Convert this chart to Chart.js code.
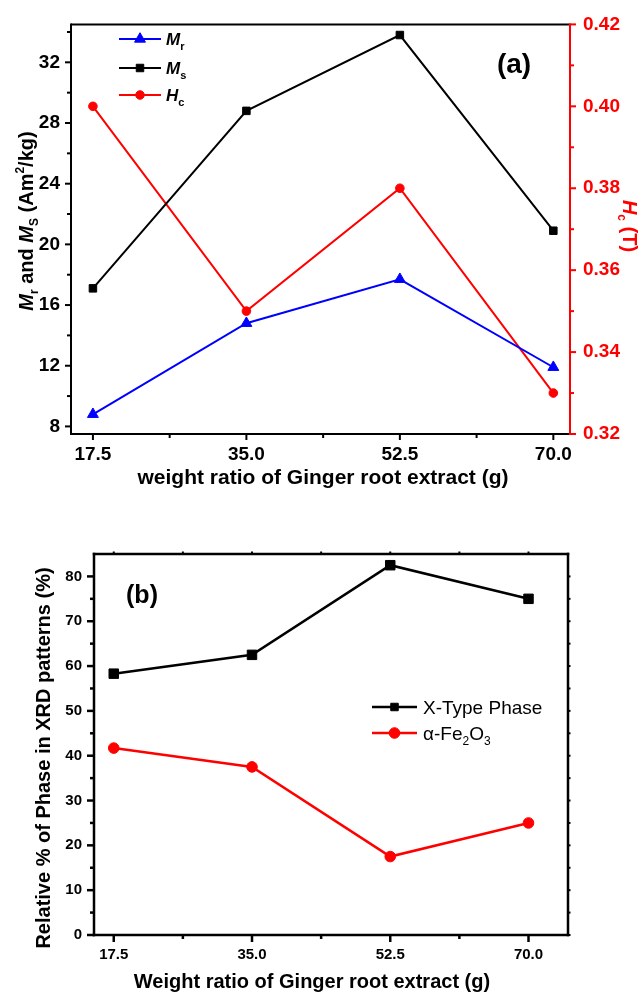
<!DOCTYPE html>
<html>
<head>
<meta charset="utf-8">
<script src="https://cdn.jsdelivr.net/npm/chart.js@4.4.1/dist/chart.umd.min.js"></script>
<style>
  html, body { margin: 0; padding: 0; background: #ffffff; }
  #wrap { position: relative; width: 643px; height: 998px; overflow: hidden; }
  canvas { position: absolute; left: 0; }
  #magnetic { top: 0; }
  #phase { top: 500px; }
</style>
</head>
<body>
<div id="wrap">
  <canvas id="magnetic" width="643" height="500"></canvas>
  <canvas id="phase" width="643" height="498"></canvas>
</div>
<script>
// ---- data ----
const gingerWeights = [17.5, 35.0, 52.5, 70.0];          // g of ginger root extract
const remanence = [8.8, 14.8, 17.7, 11.9];                // Mr (Am2/kg)
const saturation = [17.1, 28.8, 33.8, 20.9];              // Ms (Am2/kg)
const coercivity = [0.40, 0.35, 0.38, 0.33];              // Hc (T)
const xTypePhase = [58.3, 62.5, 82.5, 75.0];              // X-type phase (%)
const hematitePhase = [41.7, 37.5, 17.5, 25.0];           // alpha-Fe2O3 (%)

// ---- tick values ----
const weightTicks = [17.5, 35.0, 52.5, 70.0];
const weightMinor = [26.25, 43.75, 61.25];
const momentTicks = [8, 12, 16, 20, 24, 28, 32];
const momentMinor = [10, 14, 18, 22, 26, 30, 34];
const fieldTicks = [0.32, 0.34, 0.36, 0.38, 0.40, 0.42];
const fieldMinor = [0.33, 0.35, 0.37, 0.39, 0.41];
const percentTicks = [0, 10, 20, 30, 40, 50, 60, 70, 80];
const percentMinor = [5, 15, 25, 35, 45, 55, 65, 75];

const FONT = "'Liberation Sans', Arial, Helvetica, sans-serif";
const RED = '#ff0000';
const BLUE = '#0000ff';
const BLACK = '#000000';

Chart.defaults.font.family = FONT;
Chart.defaults.color = BLACK;

function pairs(xs, ys) { return xs.map((x, i) => ({ x: x, y: ys[i] })); }
function f(style, size) { return style + ' ' + size + 'px ' + FONT; }

function seg(ctx, x1, y1, x2, y2, color, width) {
  ctx.beginPath();
  ctx.strokeStyle = color;
  ctx.lineWidth = width;
  ctx.moveTo(x1, y1);
  ctx.lineTo(x2, y2);
  ctx.stroke();
}

// tick marks along one side of the plot area
function ticks(ctx, scale, values, len, side, area, color, width) {
  values.forEach(v => {
    const p = scale.getPixelForValue(v);
    if (side === 'bottom') seg(ctx, p, area.bottom, p, area.bottom + len, color, width);
    if (side === 'top') seg(ctx, p, area.top, p, area.top - len, color, width);
    if (side === 'left') seg(ctx, area.left - len, p, area.left, p, color, width);
    if (side === 'right') seg(ctx, area.right, p, area.right + len, p, color, width);
  });
}

// text made of runs (subscripts / superscripts / italics)
function rich(ctx, parts, x, y, rot, align) {
  ctx.save();
  ctx.translate(x, y);
  ctx.rotate(rot || 0);
  ctx.textBaseline = 'alphabetic';
  ctx.textAlign = 'left';
  let w = 0;
  parts.forEach(p => { ctx.font = p.font; p.w = ctx.measureText(p.t).width; w += p.w; });
  let cx = align === 'center' ? -w / 2 : 0;
  parts.forEach(p => {
    ctx.font = p.font;
    ctx.fillStyle = p.color || BLACK;
    ctx.fillText(p.t, cx, p.dy || 0);
    cx += p.w;
  });
  ctx.restore();
}

function legendRow(ctx, x1, x2, y, color, lw, pointStyle, radius, parts, textX, baseShift) {
  seg(ctx, x1, y, x2, y, color, lw);
  ctx.fillStyle = color;
  ctx.strokeStyle = color;
  ctx.lineWidth = 1;
  Chart.helpers.drawPoint(ctx, { pointStyle: pointStyle, radius: radius, rotation: 0, borderWidth: 1 }, (x1 + x2) / 2, y);
  rich(ctx, parts, textX, y + baseShift, 0, 'left');
}

const noGrid = { display: false, drawTicks: false };

// ---- chart (a): magnetic parameters ----
const magneticDecor = {
  id: 'magneticDecor',
  afterDraw(chart) {
    const ctx = chart.ctx, a = chart.chartArea, s = chart.scales;
    ctx.save();
    // axes box
    seg(ctx, a.left, a.top, a.right, a.top, BLACK, 2);
    seg(ctx, a.left, a.top - 1, a.left, a.bottom + 1, BLACK, 2);
    seg(ctx, a.left, a.bottom, a.right, a.bottom, BLACK, 2);
    seg(ctx, a.right, a.top - 1, a.right, a.bottom + 1, RED, 2);
    // tick marks
    ticks(ctx, s.x, weightTicks, 6, 'bottom', a, BLACK, 2);
    ticks(ctx, s.x, weightMinor, 4, 'bottom', a, BLACK, 2);
    ticks(ctx, s.y, momentTicks, 6, 'left', a, BLACK, 2);
    ticks(ctx, s.y, momentMinor, 4, 'left', a, BLACK, 2);
    ticks(ctx, s.y1, fieldTicks, 6, 'right', a, RED, 2);
    ticks(ctx, s.y1, fieldMinor, 4, 'right', a, RED, 2);

    // axis titles
    rich(ctx, [{ t: 'weight ratio of Ginger root extract (g)', font: f('bold', 21) }], 323, 484, 0, 'center');
    rich(ctx, [
      { t: 'M', font: f('italic bold', 20) },
      { t: 'r', font: f('bold', 12), dy: 5 },
      { t: ' and ', font: f('bold', 20) },
      { t: 'M', font: f('italic bold', 20) },
      { t: 'S', font: f('bold', 12), dy: 5 },
      { t: ' (Am', font: f('bold', 20) },
      { t: '2', font: f('bold', 12), dy: -9 },
      { t: '/kg)', font: f('bold', 20) }
    ], 33, 221, -Math.PI / 2, 'center');
    rich(ctx, [
      { t: 'H', font: f('italic bold', 20), color: RED },
      { t: 'c', font: f('bold', 12), dy: 5, color: RED },
      { t: ' (T)', font: f('bold', 20), color: RED }
    ], 623, 226, Math.PI / 2, 'center');

    // panel label
    rich(ctx, [{ t: '(a)', font: f('bold', 28) }], 514, 73, 0, 'center');

    // legend
    legendRow(ctx, 119, 161, 39, BLUE, 2, 'triangle', 6.3,
      [{ t: 'M', font: f('italic bold', 17) }, { t: 'r', font: f('bold', 11), dy: 5 }], 166, 6);
    legendRow(ctx, 119, 161, 68, BLACK, 2, 'rect', 5.3,
      [{ t: 'M', font: f('italic bold', 17) }, { t: 's', font: f('bold', 11), dy: 5 }], 166, 6);
    legendRow(ctx, 119, 161, 95, RED, 2, 'circle', 4.3,
      [{ t: 'H', font: f('italic bold', 17) }, { t: 'c', font: f('bold', 11), dy: 5 }], 166, 6);
    ctx.restore();
  }
};

new Chart(document.getElementById('magnetic'), {
  type: 'line',
  data: {
    datasets: [
      {
        label: 'Ms', data: pairs(gingerWeights, saturation), yAxisID: 'y',
        borderColor: BLACK, backgroundColor: BLACK, borderWidth: 2,
        pointStyle: 'rect', pointRadius: 5.3, pointBorderWidth: 1,
        pointBackgroundColor: BLACK, pointBorderColor: BLACK
      },
      {
        label: 'Mr', data: pairs(gingerWeights, remanence), yAxisID: 'y',
        borderColor: BLUE, backgroundColor: BLUE, borderWidth: 2,
        pointStyle: 'triangle', pointRadius: 6.3, pointBorderWidth: 1,
        pointBackgroundColor: BLUE, pointBorderColor: BLUE
      },
      {
        label: 'Hc', data: pairs(gingerWeights, coercivity), yAxisID: 'y1',
        borderColor: RED, backgroundColor: RED, borderWidth: 2,
        pointStyle: 'circle', pointRadius: 4.3, pointBorderWidth: 1,
        pointBackgroundColor: RED, pointBorderColor: RED
      }
    ]
  },
  options: {
    responsive: false,
    animation: false,
    devicePixelRatio: 1,
    layout: { autoPadding: false, padding: { top: 17, left: 0, right: 0, bottom: 0 } },
    plugins: { legend: { display: false }, tooltip: { enabled: false } },
    elements: { line: { tension: 0 } },
    scales: {
      x: {
        type: 'linear', position: 'bottom', min: 15, max: 71.9,
        afterBuildTicks: sc => { sc.ticks = weightTicks.map(v => ({ value: v })); },
        afterFit: sc => { sc.height = 66; },
        grid: noGrid, border: { display: false },
        ticks: { callback: v => v.toFixed(1), font: { size: 19, weight: 'bold' }, color: BLACK, padding: 9, maxRotation: 0, autoSkip: false }
      },
      y: {
        type: 'linear', position: 'left', min: 7.5, max: 34.5,
        afterBuildTicks: sc => { sc.ticks = momentTicks.map(v => ({ value: v })); },
        afterFit: sc => { sc.width = 71; },
        grid: noGrid, border: { display: false },
        ticks: { font: { size: 19, weight: 'bold' }, color: BLACK, padding: 11 }
      },
      y1: {
        type: 'linear', position: 'right', min: 0.32, max: 0.42,
        afterBuildTicks: sc => { sc.ticks = fieldTicks.map(v => ({ value: v })); },
        afterFit: sc => { sc.width = 73; },
        grid: noGrid, border: { display: false },
        ticks: { callback: v => v.toFixed(2), font: { size: 19, weight: 'bold' }, color: RED, padding: 13 }
      }
    }
  },
  plugins: [magneticDecor]
});

// ---- chart (b): phase fractions ----
const phaseDecor = {
  id: 'phaseDecor',
  afterDraw(chart) {
    const ctx = chart.ctx, a = chart.chartArea, s = chart.scales;
    ctx.save();
    ctx.lineCap = 'square';
    seg(ctx, a.left, a.top, a.right, a.top, BLACK, 2.5);
    seg(ctx, a.left, a.top, a.left, a.bottom, BLACK, 2.5);
    seg(ctx, a.left, a.bottom, a.right, a.bottom, BLACK, 2.5);
    seg(ctx, a.right, a.top, a.right, a.bottom, BLACK, 2.5);
    ctx.lineCap = 'butt';
    ticks(ctx, s.x, weightTicks, 7, 'bottom', a, BLACK, 2.5);
    ticks(ctx, s.x, weightMinor, 4, 'bottom', a, BLACK, 2.5);
    ticks(ctx, s.x, weightTicks.concat(weightMinor), 2.5, 'top', a, BLACK, 2);
    ticks(ctx, s.y, percentTicks, 7, 'left', a, BLACK, 2.5);
    ticks(ctx, s.y, percentMinor, 4, 'left', a, BLACK, 2.5);
    ticks(ctx, s.y, percentTicks.concat(percentMinor), 2.5, 'right', a, BLACK, 2);

    rich(ctx, [{ t: 'Weight ratio of Ginger root extract (g)', font: f('bold', 20) }], 312, 488, 0, 'center');
    rich(ctx, [{ t: 'Relative % of Phase in XRD patterns (%)', font: f('bold', 20) }], 50, 258, -Math.PI / 2, 'center');
    rich(ctx, [{ t: '(b)', font: f('bold', 25) }], 142, 103, 0, 'center');

    legendRow(ctx, 372, 417, 207, BLACK, 2.5, 'rect', 5.3,
      [{ t: 'X-Type Phase', font: f('normal', 19) }], 423, 7);
    legendRow(ctx, 372, 417, 233, RED, 2.5, 'circle', 5.3,
      [{ t: '\u03b1-Fe', font: f('normal', 19) }, { t: '2', font: f('normal', 12), dy: 5 },
       { t: 'O', font: f('normal', 19) }, { t: '3', font: f('normal', 12), dy: 5 }], 423, 7);
    ctx.restore();
  }
};

new Chart(document.getElementById('phase'), {
  type: 'line',
  data: {
    datasets: [
      {
        label: 'X-Type Phase', data: pairs(gingerWeights, xTypePhase),
        borderColor: BLACK, backgroundColor: BLACK, borderWidth: 2.5,
        pointStyle: 'rect', pointRadius: 6.7, pointBorderWidth: 1,
        pointBackgroundColor: BLACK, pointBorderColor: BLACK
      },
      {
        label: '\u03b1-Fe2O3', data: pairs(gingerWeights, hematitePhase),
        borderColor: RED, backgroundColor: RED, borderWidth: 2.5,
        pointStyle: 'circle', pointRadius: 5.3, pointBorderWidth: 1,
        pointBackgroundColor: RED, pointBorderColor: RED
      }
    ]
  },
  options: {
    responsive: false,
    animation: false,
    devicePixelRatio: 1,
    layout: { autoPadding: false, padding: { top: 54, left: 0, right: 75, bottom: 0 } },
    plugins: { legend: { display: false }, tooltip: { enabled: false } },
    elements: { line: { tension: 0 } },
    scales: {
      x: {
        type: 'linear', position: 'bottom', min: 15, max: 75,
        afterBuildTicks: sc => { sc.ticks = weightTicks.map(v => ({ value: v })); },
        afterFit: sc => { sc.height = 63; },
        grid: noGrid, border: { display: false },
        ticks: { callback: v => v.toFixed(1), font: { size: 15, weight: 'bold' }, color: BLACK, padding: 11, maxRotation: 0, autoSkip: false }
      },
      y: {
        type: 'linear', position: 'left', min: 0, max: 85,
        afterBuildTicks: sc => { sc.ticks = percentTicks.map(v => ({ value: v })); },
        afterFit: sc => { sc.width = 94; },
        grid: noGrid, border: { display: false },
        ticks: { font: { size: 15, weight: 'bold' }, color: BLACK, padding: 12 }
      }
    }
  },
  plugins: [phaseDecor]
});
</script>
</body>
</html>
